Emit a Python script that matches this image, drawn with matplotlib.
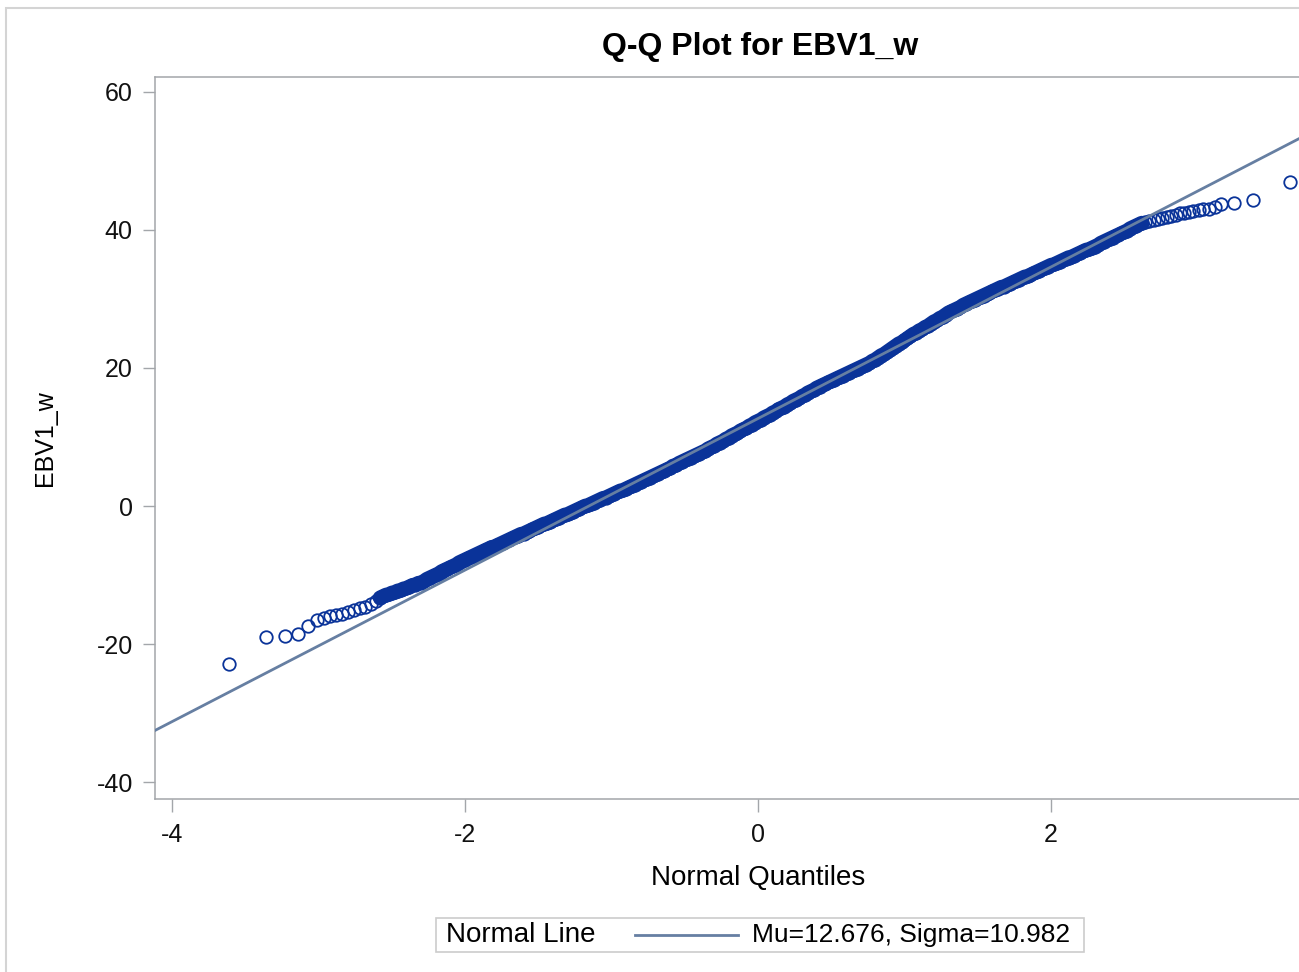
import numpy as np
import matplotlib
matplotlib.use('Agg')
import matplotlib.pyplot as plt
from matplotlib.patches import Rectangle
from matplotlib.lines import Line2D

plt.rcParams['font.family'] = ['Liberation Sans', 'DejaVu Sans']
plt.rcParams['axes.unicode_minus'] = False

# normal line parameters
mu = 12.676
sigma = 10.982

# lower tail (normal quantile, EBV1_w)
low_q = [-3.61, -3.36, -3.23, -3.14, -3.07, -3.01, -2.96, -2.92, -2.88,
         -2.84, -2.80, -2.76, -2.72, -2.68, -2.64, -2.61]
low_v = [-22.9, -19.0, -18.8, -18.5, -17.4, -16.5, -16.2, -16.0, -15.8,
         -15.6, -15.3, -15.0, -14.8, -14.6, -14.2, -13.7]

# dense middle band, read every 0.02 from -2.58 to 2.62
band_v = [
    -13.3, -13.1, -12.9, -12.8, -12.6, -12.5, -12.3, -12.2, -12.0, -11.9,
    -11.7, -11.5, -11.4, -11.2, -11.1,
    -10.9, -10.6, -10.4, -10.2, -10.0, -9.8, -9.5, -9.3, -9.1, -8.9,
    -8.7, -8.5, -8.2, -8.0, -7.8, -7.6,
    -7.4, -7.2, -7.0, -6.8, -6.6, -6.4, -6.2, -6.0, -5.9, -5.7,
    -5.5, -5.3, -5.1, -4.9, -4.7, -4.5, -4.3, -4.1, -4.0, -3.8,
    -3.6, -3.4, -3.2,
    -3.0, -2.8, -2.6, -2.5, -2.3, -2.1, -1.9, -1.7, -1.5, -1.3,
    -1.2, -1.0, -0.8, -0.6, -0.4, -0.2, 0.0, 0.1, 0.3, 0.5, 0.7,
    0.9, 1.1, 1.2, 1.4, 1.6, 1.8, 2.0, 2.2, 2.3, 2.5, 2.7, 2.9, 3.1,
    3.3, 3.5, 3.7, 3.9, 4.1, 4.3, 4.5, 4.7, 4.9, 5.1, 5.3, 5.5,
    5.8, 5.9, 6.2, 6.4, 6.6, 6.8, 7.0, 7.2, 7.4, 7.6, 7.8, 8.0,
    8.3, 8.5, 8.7, 9.0, 9.2, 9.4, 9.7, 9.9, 10.2, 10.4, 10.6, 10.9,
    11.1, 11.3, 11.6, 11.8, 12.1, 12.3, 12.5, 12.8, 13.0, 13.2, 13.5,
    13.7, 14.0, 14.2, 14.4, 14.7, 14.9, 15.2, 15.4, 15.6, 15.9, 16.1,
    16.4, 16.6, 16.8,
    17.1, 17.3, 17.5, 17.7, 17.9, 18.1, 18.3, 18.5, 18.7, 18.9,
    19.1, 19.3, 19.5, 19.7, 19.9, 20.1, 20.3, 20.5, 20.7, 21.0,
    21.2, 21.5, 21.8, 22.0, 22.3, 22.6, 22.9, 23.2, 23.5, 23.7, 24.0,
    24.3, 24.6,
    24.9, 25.1, 25.4, 25.6, 25.9, 26.1, 26.4, 26.7, 26.9, 27.2, 27.4,
    27.7, 28.0,
    28.2, 28.4, 28.6, 28.8, 29.1, 29.3, 29.5, 29.7, 29.9, 30.1,
    30.3, 30.5, 30.7, 30.9, 31.1, 31.3, 31.5, 31.7, 31.8, 32.0, 32.2,
    32.4, 32.6, 32.8, 33.0, 33.2, 33.3, 33.5, 33.7, 33.9, 34.1, 34.3,
    34.5, 34.7, 34.9, 35.0, 35.2, 35.4, 35.6, 35.8, 36.0, 36.1, 36.3,
    36.5, 36.7, 36.9, 37.1, 37.2, 37.4,
    37.6, 37.8, 38.1, 38.3, 38.5, 38.7, 38.9, 39.1, 39.3, 39.5, 39.7,
    39.9, 40.2, 40.4, 40.6, 40.8, 41.0,
]
band_q = np.linspace(-2.58, 2.62, len(band_v))

# upper tail
high_q = [2.64, 2.67, 2.70, 2.73, 2.76, 2.79, 2.82, 2.85, 2.88, 2.91,
          2.94, 2.97, 3.01, 3.04, 3.08, 3.12, 3.16, 3.25, 3.38, 3.63]
high_v = [41.2, 41.3, 41.45, 41.6, 41.7, 41.85, 42.0, 42.2, 42.4, 42.5,
          42.65, 42.8, 42.9, 43.0, 43.1, 43.4, 43.8, 43.9, 44.35, 47.0]

quantiles = np.concatenate([low_q, band_q, high_q])
values = np.concatenate([low_v, band_v, high_v])

xticks = [-4, -2, 0, 2]
yticks = [-40, -20, 0, 20, 40, 60]

W, H = 1299, 972
fig = plt.figure(figsize=(W / 100, H / 100), dpi=100, facecolor='white')

# outer frame of the graph (cut at right and bottom)
fig.patches.append(Rectangle((6 / W, -0.1), 1.2, 1.1 - 8 / H, transform=fig.transFigure,
                             fill=False, edgecolor='#d4d4d4', linewidth=1.5))

ax = fig.add_axes([155 / W, 1 - 799 / H, (W - 155) / W, (799 - 77) / H])
marker_col = '#0a3399'
line_col = '#667fa2'
frame_col = '#a3a6aa'

# thousands of overlapping circles merge into a solid band in the middle
ax.plot(band_q, band_v, linestyle='-', linewidth=10.5, color=marker_col,
        solid_capstyle='round', zorder=2)
ax.plot(quantiles, values, linestyle='none', marker='o', markersize=9,
        markerfacecolor='none', markeredgecolor=marker_col, markeredgewidth=1.3, zorder=2)
ax.axline((0, mu), slope=sigma, color=line_col, linewidth=2.0, zorder=3)

ax.set_xlim(-4.116, 3.693)
ax.set_ylim(-42.46, 62.17)
ax.set_xticks(xticks)
ax.set_yticks(yticks)
ax.set_xticklabels([str(t) for t in xticks])
ax.set_yticklabels([str(t) for t in yticks])

for side in ['left', 'top', 'bottom']:
    ax.spines[side].set_color(frame_col)
    ax.spines[side].set_linewidth(1.1)
ax.spines['right'].set_visible(False)
ax.tick_params(axis='both', length=9, width=1.0, color=frame_col, labelsize=18,
               labelcolor='#111111')
ax.tick_params(axis='y', pad=7)
ax.tick_params(axis='x', pad=8)

ax.set_xlabel('Normal Quantiles', fontsize=20, va='center')
ax.xaxis.set_label_coords((758 - 155) / (W - 155), (799 - 878) / (799 - 77))
ax.set_ylabel('EBV1_w', fontsize=18, va='center')
ax.yaxis.set_label_coords((45 - 155) / (W - 155), 0.5)

fig.text(760 / W, 1 - 47 / H, 'Q-Q Plot for EBV1_w', ha='center', va='center',
         fontsize=23, fontweight='bold')

# legend box
fig.patches.append(Rectangle((436 / W, 1 - 952 / H), (1084 - 436) / W, 34 / H,
                             transform=fig.transFigure, fill=False,
                             edgecolor='#cccccc', linewidth=1.2))
ly = 1 - 935 / H
fig.text(446 / W, ly, 'Normal Line', ha='left', va='center', fontsize=20)
fig.lines.append(Line2D([635 / W, 738 / W], [ly, ly], transform=fig.transFigure,
                        color=line_col, linewidth=2.0))
fig.text(752 / W, ly, 'Mu=%.3f, Sigma=%.3f' % (mu, sigma), ha='left', va='center',
         fontsize=19)

fig.savefig('out.png', dpi=100)
